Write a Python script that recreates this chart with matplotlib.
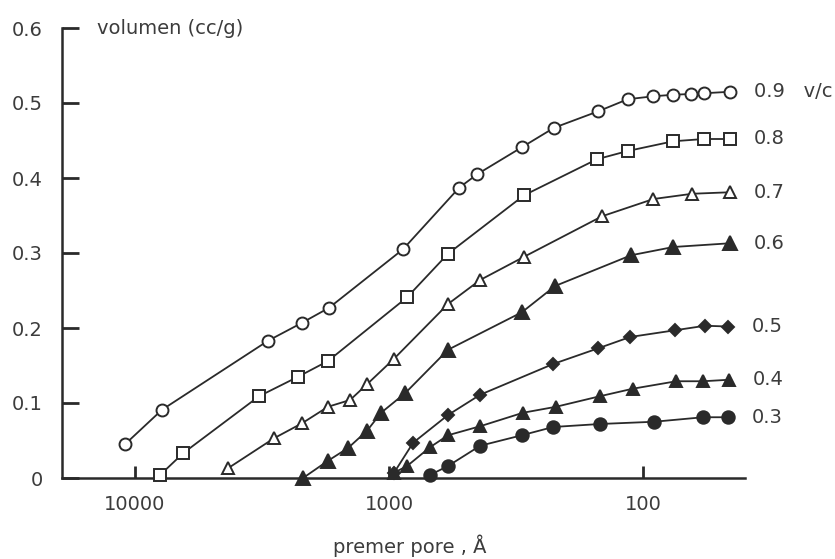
import matplotlib.pyplot as plt

# pore diameter (angstrom) and cumulative volume (cc/g) for each v/c ratio
pore_09 = [10950, 7830, 2995, 2200, 1722, 881, 530, 450, 300, 224, 150, 115, 91, 76, 65, 57.5, 45.4]
vol_09 = [0.045, 0.091, 0.183, 0.207, 0.227, 0.305, 0.387, 0.405, 0.441, 0.467, 0.489, 0.505, 0.509, 0.511, 0.512, 0.513, 0.515]

pore_08 = [7970, 6470, 3250, 2282, 1739, 849, 586, 294, 152, 115, 76, 57.5, 45.4]
vol_08 = [0.004, 0.033, 0.109, 0.135, 0.156, 0.241, 0.299, 0.377, 0.425, 0.436, 0.449, 0.452, 0.452]

pore_07 = [4305, 2837, 2200, 1739, 1424, 1221, 956, 586, 438, 294, 145, 91, 64, 45.4]
vol_07 = [0.013, 0.053, 0.073, 0.095, 0.104, 0.125, 0.159, 0.232, 0.264, 0.295, 0.349, 0.372, 0.379, 0.381]

pore_06 = [2181, 1739, 1450, 1221, 1075, 865, 586, 300, 222, 111.5, 76, 45.4]
vol_06 = [0.0, 0.023, 0.040, 0.063, 0.087, 0.113, 0.171, 0.221, 0.256, 0.297, 0.308, 0.313]

pore_05 = [956, 804, 586, 438, 226, 150, 112.5, 74.8, 57, 46.3]
vol_05 = [0.007, 0.047, 0.084, 0.111, 0.152, 0.173, 0.188, 0.197, 0.203, 0.202]

pore_04 = [956, 849, 690, 586, 438, 297, 220, 148, 110, 74, 58, 45.9]
vol_04 = [0.007, 0.016, 0.041, 0.057, 0.069, 0.087, 0.095, 0.109, 0.119, 0.129, 0.129, 0.131]

pore_03 = [690, 586, 438, 300, 226, 148, 90.5, 58, 46.3]
vol_03 = [0.004, 0.016, 0.043, 0.057, 0.068, 0.072, 0.075, 0.081, 0.081]

ratios = ["0.9   v/c", "0.8", "0.7", "0.6", "0.5", "0.4", "0.3"]

ink = "#2a2a2a"
txt = "#3c3c3c"

fig = plt.figure(figsize=(8.35, 5.59), dpi=100)
ax = fig.add_axes([62 / 835, 1 - 478 / 559, 683 / 835, 450 / 559])

series = [
    (pore_09, vol_09, "o", 8.6, "white"),
    (pore_08, vol_08, "s", 8.6, "white"),
    (pore_07, vol_07, "^", 9, "white"),
    (pore_06, vol_06, "^", 9.5, ink),
    (pore_05, vol_05, "D", 6, ink),
    (pore_04, vol_04, "^", 8.5, ink),
    (pore_03, vol_03, "o", 9, ink),
]

for (px, vy, mk, ms, fc), lab in zip(series, ratios):
    ax.plot(px, vy, color=ink, lw=1.3, marker=mk, ms=ms, mfc=fc,
            mec=ink, mew=1.4, clip_on=False, zorder=3)
    ax.annotate(lab, xy=(px[-1], vy[-1]), xytext=(17, 0),
                textcoords="offset points", va="center", ha="left",
                fontsize=14, color=txt)

ax.set_xscale("log")
ax.set_xlim(19390, 39.7)
ax.set_ylim(0, 0.6)

ax.set_xticks([10000, 1000, 100])
ax.set_xticklabels(["10000", "1000", "100"])
ax.minorticks_off()
ax.set_yticks([0, 0.1, 0.2, 0.3, 0.4, 0.5, 0.6])
ax.set_yticklabels(["0", "0.1", "0.2", "0.3", "0.4", "0.5", "0.6"])

ax.tick_params(axis="y", direction="in", length=12, width=2, pad=14,
               labelsize=14, colors=ink, labelcolor=txt)
ax.tick_params(axis="x", direction="in", length=9, width=2, pad=12,
               labelsize=14, colors=ink, labelcolor=txt)

for side in ["top", "right"]:
    ax.spines[side].set_visible(False)
for side in ["left", "bottom"]:
    ax.spines[side].set_linewidth(1.8)
    ax.spines[side].set_color(ink)

fig.text(97 / 835, 1 - 28 / 559, "volumen (cc/g)", fontsize=14,
         color=txt, va="center", ha="left")
fig.text(410 / 835, 1 - 546 / 559, "premer pore , Å", fontsize=14,
         color=txt, va="center", ha="center")

fig.savefig("out.png", dpi=100)
